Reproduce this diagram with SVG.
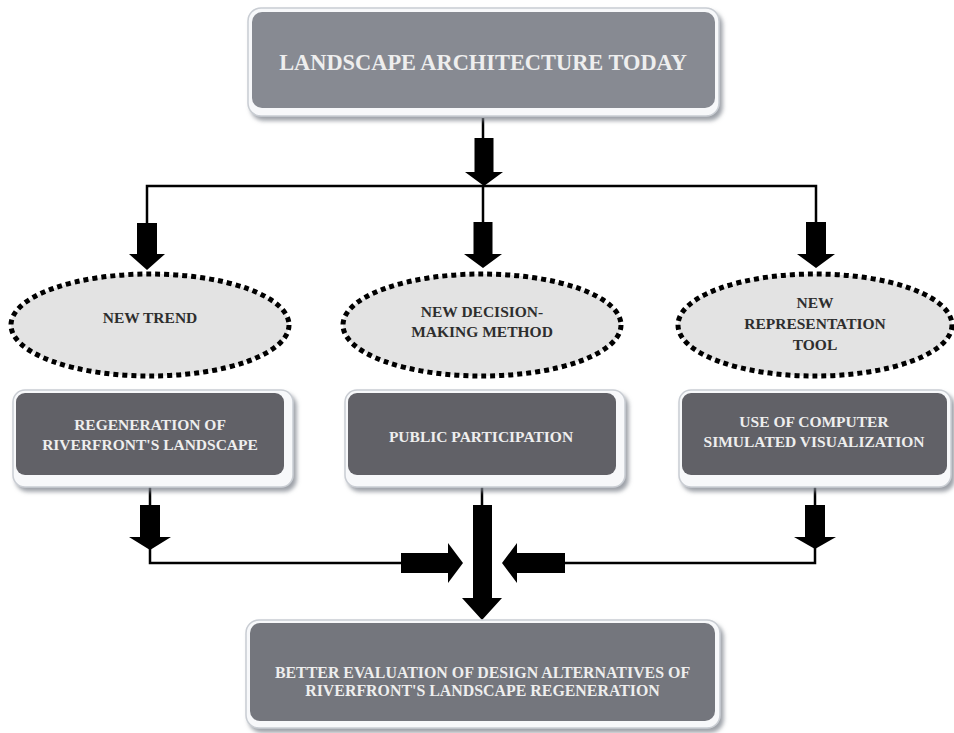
<svg xmlns="http://www.w3.org/2000/svg" width="954" height="733" viewBox="0 0 954 733">
<defs>
<filter id="sh" x="-5%" y="-10%" width="112%" height="130%">
<feDropShadow dx="3" dy="4" stdDeviation="2" flood-color="#7d838c" flood-opacity="0.75"/>
</filter>
<style>
.frame{fill:#f7f8fa;stroke:#c9cdd3;stroke-width:1.5;filter:url(#sh)}
.top{fill:#878a92}
.mid{fill:#616167}
.bot{fill:#74767d}
.ell{fill:#e3e3e3;stroke:#000;stroke-width:5;stroke-dasharray:5 4}
.lt{font-family:"Liberation Serif","Times New Roman",serif;font-weight:bold;fill:#eeeeee;text-anchor:middle}
.dk{font-family:"Liberation Serif","Times New Roman",serif;font-weight:bold;fill:#2e2e2e;text-anchor:middle;font-size:15.5px}
.ln{fill:none;stroke:#000;stroke-width:2.5}
.ar{fill:#000}
</style>
</defs>
<rect width="954" height="733" fill="#ffffff"/>

<g id="connectors">
<path class="ln" d="M483,118 V140"/>
<path class="ar" d="M474.5,138 H493.5 V172 H503 L484,186 L465,172 H474.5 Z"/>
<path class="ln" d="M147,224 V186 H816 V224 M483,186 V224"/>
<path class="ar" d="M137,223 H157 V254 H165 L147,270 L129,254 H137 Z"/>
<path class="ar" d="M473.5,222 H492.5 V254 H502 L483,268 L464,254 H473.5 Z"/>
<path class="ar" d="M806,222 H826 V254 H835 L816,268 L797,254 H806 Z"/>

<path class="ln" d="M150,487 V507"/>
<path class="ar" d="M140,505 H160 V537 H171 L150,550 L129,537 H140 Z"/>
<path class="ln" d="M150,548 V563 H402"/>
<path class="ar" d="M401,553 H448 V543 L463,563 L448,583 V573 H401 Z"/>

<path class="ln" d="M815,487 V507"/>
<path class="ar" d="M805,505 H825 V537 H836 L815,549 L794,537 H805 Z"/>
<path class="ln" d="M815,547 V563 H564"/>
<path class="ar" d="M565,553 H517 V543 L502,563 L517,583 V573 H565 Z"/>

<path class="ln" d="M482,487 V507"/>
<path class="ar" d="M473,505 H492 V598 H502 L482,620 L462,598 H473 Z"/>
</g>

<g id="landscape-architecture-today">
<rect class="frame" x="248" y="8" width="471" height="108" rx="13"/>
<rect class="top" x="252" y="12" width="463" height="96" rx="10"/>
<text class="lt" x="483" y="70" font-size="22.4">LANDSCAPE ARCHITECTURE TODAY</text>
</g>

<g id="new-trend">
<ellipse class="ell" cx="150" cy="325" rx="139" ry="51"/>
<text class="dk" x="150" y="323">NEW TREND</text>
</g>

<g id="new-decision-making-method">
<ellipse class="ell" cx="482" cy="325" rx="139" ry="51"/>
<text class="dk" x="482" y="317">NEW DECISION-</text>
<text class="dk" x="482" y="337">MAKING METHOD</text>
</g>

<g id="new-representation-tool">
<ellipse class="ell" cx="815" cy="325" rx="137" ry="51"/>
<text class="dk" x="815" y="308">NEW</text>
<text class="dk" x="815" y="329">REPRESENTATION</text>
<text class="dk" x="815" y="350">TOOL</text>
</g>

<g id="regeneration">
<rect class="frame" x="13" y="390" width="280" height="97" rx="12"/>
<rect class="mid" x="16" y="393" width="268" height="82" rx="9"/>
<text class="lt" x="150" y="430" font-size="15.5">REGENERATION OF</text>
<text class="lt" x="150" y="450" font-size="15.5">RIVERFRONT'S LANDSCAPE</text>
</g>

<g id="public-participation">
<rect class="frame" x="345" y="390" width="280" height="97" rx="12"/>
<rect class="mid" x="348" y="393" width="268" height="82" rx="9"/>
<text class="lt" x="481" y="442" font-size="15.5">PUBLIC PARTICIPATION</text>
</g>

<g id="computer-visualization">
<rect class="frame" x="679" y="390" width="272" height="97" rx="12"/>
<rect class="mid" x="682" y="393" width="265" height="82" rx="9"/>
<text class="lt" x="814" y="427" font-size="15.5">USE OF COMPUTER</text>
<text class="lt" x="814" y="447" font-size="15.5">SIMULATED VISUALIZATION</text>
</g>

<g id="better-evaluation">
<rect class="frame" x="246" y="620" width="474" height="108" rx="13"/>
<rect class="bot" x="250" y="623" width="465" height="98" rx="10"/>
<text class="lt" x="482.5" y="678" font-size="15.9">BETTER EVALUATION OF DESIGN ALTERNATIVES OF</text>
<text class="lt" x="482.5" y="696" font-size="15.9">RIVERFRONT'S LANDSCAPE REGENERATION</text>
</g>
</svg>
